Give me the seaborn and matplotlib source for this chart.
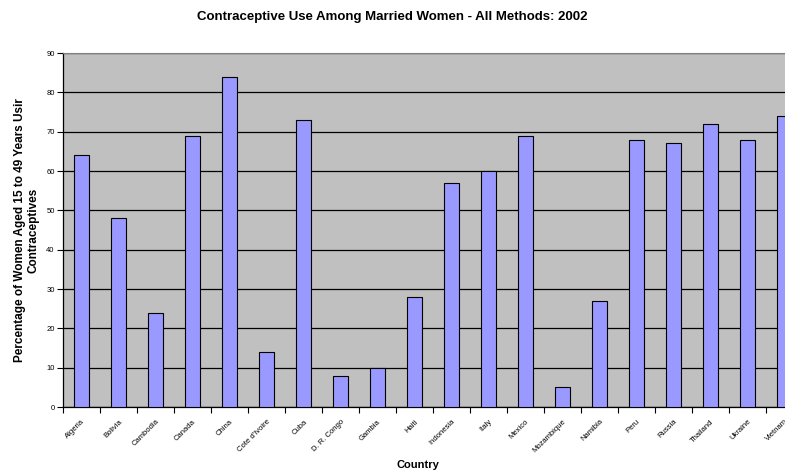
import matplotlib
matplotlib.use("Agg")
import matplotlib.pyplot as plt
import seaborn as sns
import numpy as np
import pandas as pd
from matplotlib.ticker import FixedLocator

countries = ["Algeria", "Bolivia", "Cambodia", "Canada", "China", "Cote d'Ivoire", "Cuba",
             "D. R. Congo", "Gambia", "Haiti", "Indonesia", "Italy", "Mexico", "Mozambique",
             "Namibia", "Peru", "Russia", "Thailand", "Ukraine", "Vietnam"]
values = [64, 48, 24, 69, 84, 14, 73, 8, 10, 28, 57, 60, 69, 5, 27, 68, 67, 72, 68, 74]
yticks = list(range(0, 100, 10))

sns.set_theme(style="white")
plt.rcParams['font.family'] = ['Liberation Sans', 'DejaVu Sans']
plt.rcParams['text.color'] = 'black'
plt.rcParams['axes.labelcolor'] = 'black'
plt.rcParams['xtick.color'] = 'black'
plt.rcParams['ytick.color'] = 'black'

df = pd.DataFrame({"Country": countries, "Value": values})

fig = plt.figure(figsize=(7.85, 4.74), dpi=100)
ax = fig.add_axes([63/785, 67/474, 740/785, 354/474])
ax.set_facecolor("#C0C0C0")

sns.barplot(data=df, x="Country", y="Value", color="#9999FF", saturation=1,
            width=0.43, edgecolor="black", linewidth=0.8, ax=ax, zorder=3)

ax.set_ylim(0, 90)
ax.set_xlim(-0.5, len(countries) - 0.5)
ax.set_yticks(yticks)
ax.yaxis.grid(True, color="black", linewidth=0.9, zorder=1)
ax.set_axisbelow(True)
for s in ["top", "right"]:
    ax.spines[s].set_color("#808080")
    ax.spines[s].set_linewidth(0.8)
for s in ["left", "bottom"]:
    ax.spines[s].set_color("black")
    ax.spines[s].set_linewidth(0.9)

ax.tick_params(axis="y", labelsize=5.5, length=4, width=0.8, direction="out", left=True, pad=2,
               colors="black")
ax.tick_params(axis="x", which="major", length=0, labelsize=5.5, pad=8, colors="black")
ax.xaxis.set_minor_locator(FixedLocator(np.arange(-0.5, len(countries), 1.0)))
ax.tick_params(axis="x", which="minor", length=4, width=0.8, direction="out", bottom=True,
               colors="black")
plt.setp(ax.get_xticklabels(), rotation=45, ha="right", rotation_mode="anchor")

ax.set_xlabel("")
ax.set_ylabel("Percentage of Women Aged 15 to 49 Years Usir\nContraceptives",
              fontsize=8.5, fontweight="bold", labelpad=5, color="black")

fig.text(392/785, 1 - 17/474, "Contraceptive Use Among Married Women - All Methods: 2002",
         ha="center", va="center", fontsize=9.5, fontweight="bold", color="black")
fig.text(418/785, 1 - 465/474, "Country", ha="center", va="center", fontsize=8,
         fontweight="bold", color="black")

fig.savefig("out.png", dpi=100)
